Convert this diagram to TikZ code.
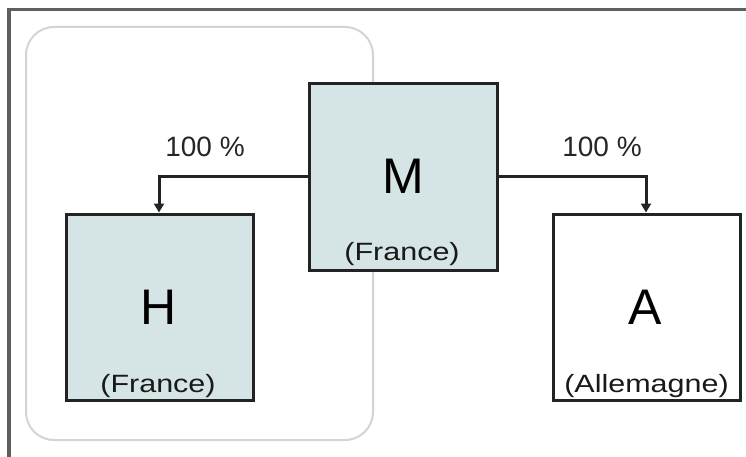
\documentclass[tikz,border=0pt]{standalone}
\usepackage{fontspec}
\setmainfont{Liberation Sans}
\usetikzlibrary{arrows.meta}
\definecolor{boxfill}{RGB}{213,228,228}
\definecolor{boxline}{RGB}{35,35,35}
\definecolor{groupline}{RGB}{212,212,212}
\definecolor{framecol}{RGB}{95,95,95}
\tikzset{
  company/.style={draw=boxline, line width=3pt, inner sep=0pt},
  bigletter/.style={font=\fontsize{50}{56}\selectfont, text=black, inner sep=0pt},
  country/.style={font=\fontsize{25}{30}\selectfont, text=black!90, inner sep=0pt, xscale=1.22, anchor=base},
  pct/.style={font=\fontsize{28}{32}\selectfont, text=black!85, inner sep=0pt},
  link/.style={draw=boxline, line width=3pt, -{Triangle[length=9pt,width=10pt]}},
}
\begin{document}
\begin{tikzpicture}[x=1pt,y=-1pt]
\useasboundingbox (0,0) rectangle (746,457);
\fill[white] (0,0) rectangle (746,457);
% outer frame
\draw[framecol, line width=3.5pt] (9,457) -- (9,9.5) -- (746,9.5);
% group outline
\draw[groupline, line width=2pt, rounded corners=28pt] (26,27) rectangle (373,440);
% boxes
\node[company, fill=boxfill, minimum width=188pt, minimum height=186pt] (M) at (403,177) {};
\node[company, fill=boxfill, minimum width=187pt, minimum height=186pt] (H) at (159.5,307) {};
\node[company, fill=white, minimum width=187pt, minimum height=186pt] (A) at (646.5,307) {};
% texts
\node[bigletter] (Mt) at (403,176) {M};
\node[country] (Mc) at (402,260) {(France)};
\node[bigletter] (Ht) at (159,307) {H};
\node[country] (Hc) at (158,392) {(France)};
\node[bigletter] (At) at (645,307) {A};
\node[country] (Ac) at (646.5,392) {(Allemagne)};
% connectors
\coordinate (lb) at (159,177);
\coordinate (rb) at (646,177);
\draw[link] (M.west |- lb) -- (lb) -- (lb |- H.north);
\draw[link] (M.east |- rb) -- (rb) -- (rb |- A.north);
\node[pct] (pl) at (205,147) {100 \%};
\node[pct] (pr) at (602,147) {100 \%};
\end{tikzpicture}
\end{document}
